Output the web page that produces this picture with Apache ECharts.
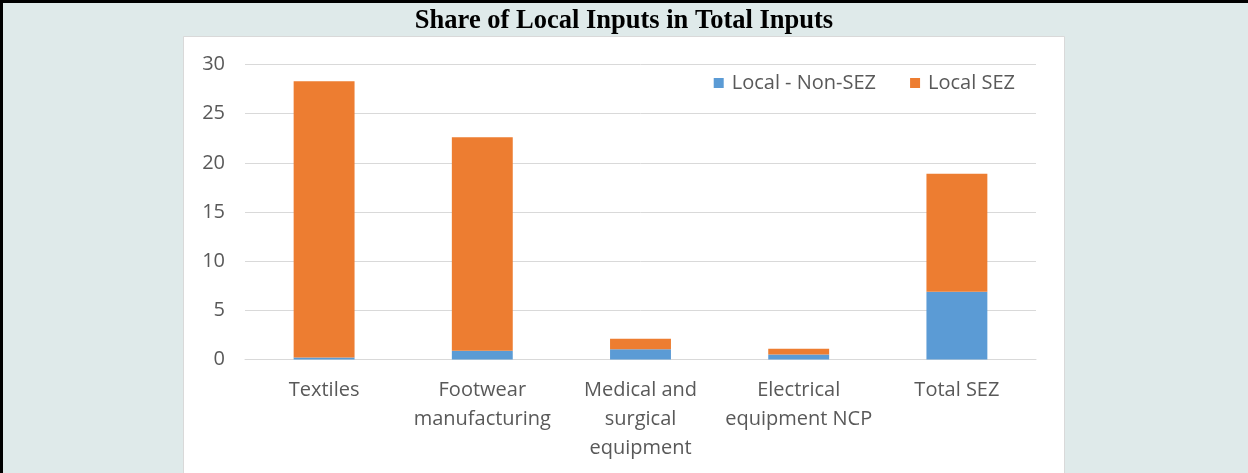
<!DOCTYPE html>
<html>
<head>
<meta charset="utf-8">
<script src="https://cdn.jsdelivr.net/npm/echarts@6/dist/echarts.min.js"></script>
<style>
  html, body { margin: 0; padding: 0; background: #dfeaea; }
  #chart { width: 1248px; height: 473px; }
</style>
</head>
<body>
<div id="chart"></div>
<script>
  // data
  const categories = ['Textiles', 'Footwear\nmanufacturing', 'Medical and\nsurgical\nequipment', 'Electrical\nequipment NCP', 'Total SEZ'];
  const localNonSez = [0.2, 0.9, 1.05, 0.5, 6.9];
  const localSez = [28.1, 21.7, 1.05, 0.6, 12.0];
  const yTicks = [0, 5, 10, 15, 20, 25, 30];

  const font = '"Open Sans", "Noto Sans", sans-serif';
  const textColor = '#595959';

  const chart = echarts.init(document.getElementById('chart'));
  chart.setOption({
    backgroundColor: '#dfeaea',
    animation: false,
    color: ['#5b9bd5', '#ed7d31'],
    title: {
      text: 'Share of Local Inputs in Total Inputs',
      left: 'center',
      top: 3,
      textStyle: {
        fontFamily: '"Liberation Serif", "Times New Roman", serif',
        fontWeight: 'bold',
        fontSize: 26.5,
        color: '#000'
      }
    },
    graphic: [
      // white chart panel
      {
        type: 'rect',
        z: -10,
        shape: { x: 183.5, y: 36.5, width: 881, height: 450 },
        style: { fill: '#fff', stroke: '#d9d9d9', lineWidth: 1 }
      },
      // black frame, top and left
      {
        type: 'rect',
        z: -5,
        shape: { x: 0, y: 0, width: 1248, height: 3 },
        style: { fill: '#000' }
      },
      {
        type: 'rect',
        z: -5,
        shape: { x: 0, y: 0, width: 3, height: 473 },
        style: { fill: '#000' }
      }
    ],
    legend: {
      right: 228,
      top: 68,
      itemWidth: 10,
      itemHeight: 10,
      itemGap: 34,
      icon: 'rect',
      textStyle: { fontFamily: font, fontSize: 20, color: textColor, padding: [0, 0, 0, 3] },
      data: ['Local - Non-SEZ', 'Local SEZ']
    },
    grid: {
      left: 245,
      right: 212,
      top: 64.5,
      bottom: 113.5
    },
    xAxis: {
      type: 'category',
      data: categories,
      axisTick: { show: false },
      axisLine: { lineStyle: { color: '#d9d9d9', width: 1 } },
      axisLabel: {
        fontFamily: font,
        fontSize: 20,
        color: textColor,
        lineHeight: 29,
        margin: 16,
        interval: 0
      }
    },
    yAxis: {
      type: 'value',
      min: yTicks[0],
      max: yTicks[yTicks.length - 1],
      interval: 5,
      axisLine: { show: false },
      axisTick: { show: false },
      splitLine: { lineStyle: { color: '#d9d9d9', width: 1 } },
      axisLabel: {
        fontFamily: font,
        fontSize: 20,
        color: textColor,
        margin: 20
      }
    },
    series: [
      {
        name: 'Local - Non-SEZ',
        type: 'bar',
        stack: 'total',
        barWidth: '38.5%',
        data: localNonSez
      },
      {
        name: 'Local SEZ',
        type: 'bar',
        stack: 'total',
        barWidth: '38.5%',
        data: localSez
      }
    ]
  });
</script>
</body>
</html>
